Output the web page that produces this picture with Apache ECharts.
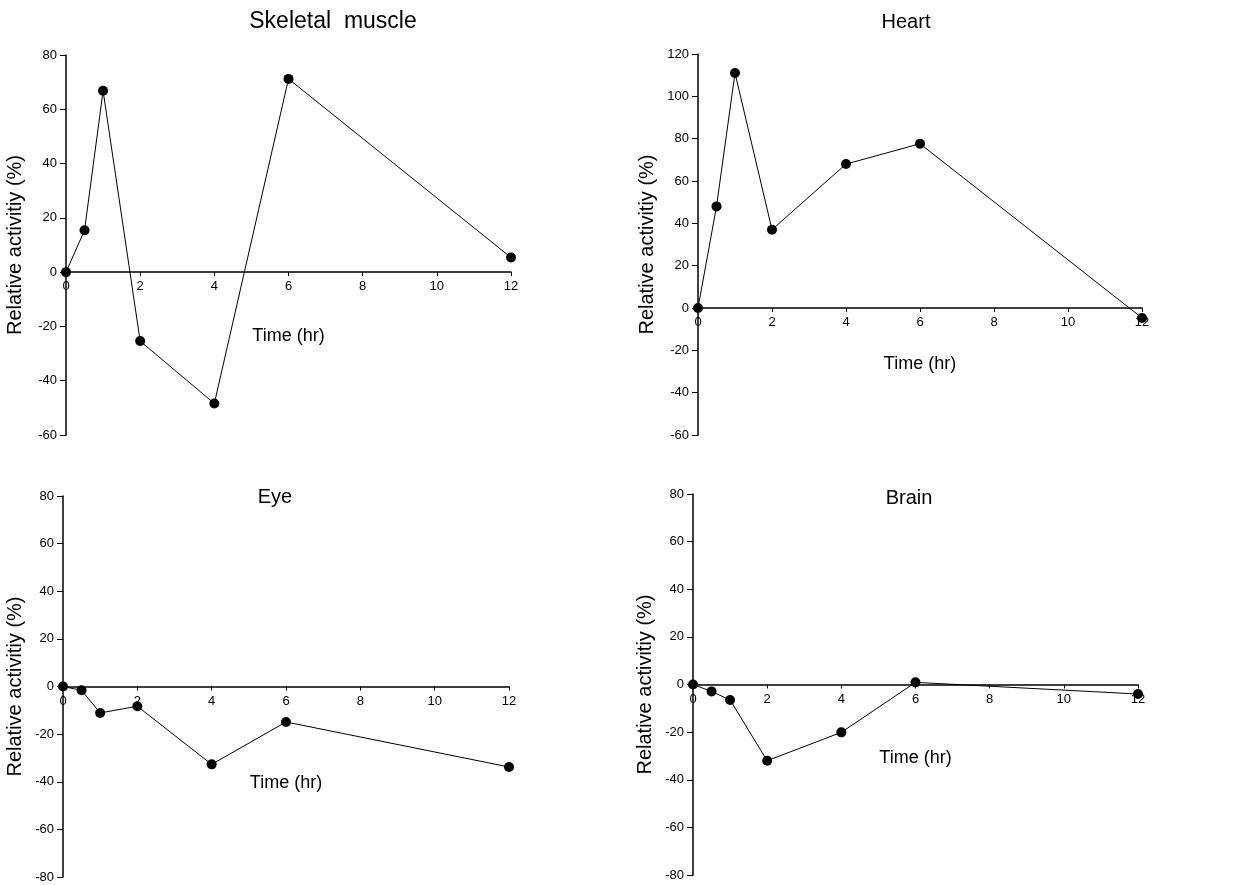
<!DOCTYPE html>
<html>
<head>
<meta charset="utf-8">
<script src="https://cdn.jsdelivr.net/npm/echarts@6/dist/echarts.min.js"></script>
<style>
  html, body { margin: 0; padding: 0; background: #fff; }
  #main { width: 1250px; height: 885px; }
</style>
</head>
<body>
<div id="main"></div>
<script>
// time points (hr)
var times = [0, 0.5, 1, 2, 4, 6, 12];

// relative activity (%) per tissue
var skeletal = [0, 15.4, 66.8, -25.4, -48.4, 71.2, 5.4];
var heart = [0, 48, 111, 37, 68, 77.6, -4.7];
var eye = [0, -1.6, -11.1, -8.3, -32.7, -14.9, -33.8];
var brain = [0, -2.9, -6.5, -32, -20.1, 0.9, -4];

var titles = ['Skeletal  muscle', 'Heart', 'Eye', 'Brain'];
var yMins = [-60, -60, -80, -80];
var yMaxs = [80, 120, 80, 80];

var myChart = echarts.init(document.getElementById('main'));

var font = 'Liberation Sans, Arial, sans-serif';
var panels = [skeletal, heart, eye, brain];

// panel boxes
var grids = [
  { left: 66, top: 55, width: 445, height: 380 },
  { left: 698, top: 54, width: 444, height: 381 },
  { left: 63, top: 496, width: 446, height: 381 },
  { left: 693, top: 494, width: 445, height: 381 }
];
grids.forEach(function (g) { g.outerBoundsMode = 'none'; g.containLabel = false; });

var timeGap = [55, 47, 88, 65];
var yNameGap = [41, 41, 38, 38];
var titleSize = [23, 20, 20, 20];
var titlePos = [[333, 22], [906, 22], [275, 497], [909, 498]];

function pairs(ys) {
  return times.map(function (t, i) { return [t, ys[i]]; });
}

var option = {
  animation: false,
  backgroundColor: '#fff',
  textStyle: { fontFamily: font },
  graphic: titles.map(function (t, i) {
    return {
      type: 'text',
      x: titlePos[i][0],
      y: titlePos[i][1],
      style: {
        text: t,
        fontSize: titleSize[i],
        fontFamily: font,
        fill: '#000',
        align: 'center',
        verticalAlign: 'middle'
      }
    };
  }),
  grid: grids,
  xAxis: grids.map(function (g, i) {
    // x axis sits on the y = 0 line
    var off = -g.height * (0 - yMins[i]) / (yMaxs[i] - yMins[i]);
    return {
      type: 'value',
      gridIndex: i,
      position: 'bottom',
      offset: off,
      min: 0,
      max: 12,
      interval: 2,
      name: 'Time (hr)',
      nameLocation: 'middle',
      nameGap: timeGap[i],
      nameTextStyle: { fontSize: 18, color: '#000', fontFamily: font },
      axisLine: { show: true, onZero: false, lineStyle: { color: '#000', width: 1.5 } },
      axisTick: { show: true, length: 4, lineStyle: { color: '#000' } },
      axisLabel: { fontSize: 13, color: '#000', margin: 8 },
      splitLine: { show: false }
    };
  }),
  yAxis: grids.map(function (g, i) {
    return {
      type: 'value',
      gridIndex: i,
      min: yMins[i],
      max: yMaxs[i],
      interval: 20,
      name: 'Relative activitiy (%)',
      nameLocation: 'middle',
      nameGap: yNameGap[i],
      nameTextStyle: { fontSize: 20, color: '#000', fontFamily: font },
      axisLine: { show: true, onZero: false, lineStyle: { color: '#000', width: 1.5 } },
      axisTick: { show: true, length: 6, lineStyle: { color: '#000' } },
      axisLabel: { fontSize: 13, color: '#000', margin: 9 },
      splitLine: { show: false }
    };
  }),
  series: panels.map(function (ys, i) {
    return {
      type: 'line',
      xAxisIndex: i,
      yAxisIndex: i,
      data: pairs(ys),
      symbol: 'circle',
      symbolSize: 10,
      itemStyle: { color: '#000' },
      lineStyle: { color: '#000', width: 1 }
    };
  })
};
myChart.setOption(option);
</script>
</body>
</html>
